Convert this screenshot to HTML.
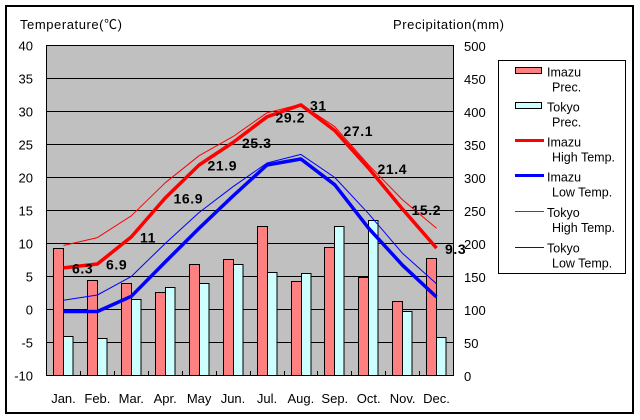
<!DOCTYPE html>
<html><head><meta charset="utf-8"><style>
html,body{margin:0;padding:0;background:#fff;}
svg{display:block;}
text{font-family:"Liberation Sans","Noto Sans CJK JP",sans-serif;fill:#000;}
.t{font-size:13px;}
.lg{font-size:12.5px;}
.lb{font-size:14px;font-weight:bold;letter-spacing:0.6px;}
</style></head><body>
<svg width="640" height="420" viewBox="0 0 640 420" xmlns="http://www.w3.org/2000/svg">
<rect x="0" y="0" width="640" height="420" fill="#fff"/>
<rect x="6" y="6" width="627" height="407" fill="none" stroke="#000" stroke-width="2"/>
<!-- plot bg -->
<rect x="46.5" y="45.5" width="407" height="330" fill="#C0C0C0"/>
<!-- gridlines -->
<g stroke="#000" stroke-width="1">
<line x1="46.5" y1="78.5" x2="453.5" y2="78.5"/>
<line x1="46.5" y1="111.5" x2="453.5" y2="111.5"/>
<line x1="46.5" y1="144.5" x2="453.5" y2="144.5"/>
<line x1="46.5" y1="177.5" x2="453.5" y2="177.5"/>
<line x1="46.5" y1="210.5" x2="453.5" y2="210.5"/>
<line x1="46.5" y1="243.5" x2="453.5" y2="243.5"/>
<line x1="46.5" y1="276.5" x2="453.5" y2="276.5"/>
<line x1="46.5" y1="309.5" x2="453.5" y2="309.5"/>
<line x1="46.5" y1="342.5" x2="453.5" y2="342.5"/>
</g>
<!-- bars -->
<g stroke="#000" stroke-width="1">
<g fill="#FF8080">
<rect x="53.5" y="248.5" width="10" height="127"/>
<rect x="87.5" y="280.5" width="10" height="95"/>
<rect x="121.5" y="283.5" width="10" height="92"/>
<rect x="155.5" y="292.5" width="10" height="83"/>
<rect x="189.5" y="264.5" width="10" height="111"/>
<rect x="223.5" y="259.5" width="10" height="116"/>
<rect x="257.5" y="226.5" width="10" height="149"/>
<rect x="291.5" y="281.5" width="10" height="94"/>
<rect x="324.5" y="247.5" width="10" height="128"/>
<rect x="358.5" y="277.5" width="10" height="98"/>
<rect x="392.5" y="301.5" width="10" height="74"/>
<rect x="426.5" y="258.5" width="10" height="117"/>
</g>
<g fill="#CCFFFF">
<rect x="63.5" y="336.5" width="9.5" height="39"/>
<rect x="97.5" y="338.5" width="9.5" height="37"/>
<rect x="131.5" y="299.5" width="9.5" height="76"/>
<rect x="165.5" y="287.5" width="9.5" height="88"/>
<rect x="199.5" y="283.5" width="9.5" height="92"/>
<rect x="233.5" y="264.5" width="9.5" height="111"/>
<rect x="267.5" y="272.5" width="9.5" height="103"/>
<rect x="301.5" y="273.5" width="9.5" height="102"/>
<rect x="334.5" y="226.5" width="9.5" height="149"/>
<rect x="368.5" y="220.5" width="9.5" height="155"/>
<rect x="402.5" y="311.5" width="9.5" height="64"/>
<rect x="436.5" y="337.5" width="9.5" height="38"/>
</g>
</g>
<!-- x ticks -->
<g stroke="#000" stroke-width="1">
<line x1="80.5" y1="371" x2="80.5" y2="375.5"/>
<line x1="114.5" y1="371" x2="114.5" y2="375.5"/>
<line x1="148.5" y1="371" x2="148.5" y2="375.5"/>
<line x1="182.5" y1="371" x2="182.5" y2="375.5"/>
<line x1="216.5" y1="371" x2="216.5" y2="375.5"/>
<line x1="250.5" y1="371" x2="250.5" y2="375.5"/>
<line x1="284.5" y1="371" x2="284.5" y2="375.5"/>
<line x1="317.5" y1="371" x2="317.5" y2="375.5"/>
<line x1="351.5" y1="371" x2="351.5" y2="375.5"/>
<line x1="385.5" y1="371" x2="385.5" y2="375.5"/>
<line x1="419.5" y1="371" x2="419.5" y2="375.5"/>
</g>
<!-- lines -->
<g fill="none" stroke-linejoin="round">
<polyline stroke="#FF0000" stroke-width="1" points="63.5,245.5 97.4,237.6 131.3,215.8 165.2,182.8 199.1,155.7 233,136.6 267,112.8 300.9,104.2 334.8,126.7 368.7,165 402.6,199.9 436.5,228.3"/>
<polyline stroke="#0000FF" stroke-width="1" points="63.5,300.3 97.4,295 131.3,276.5 165.2,243.5 199.1,212.5 233,186.7 267,163 300.9,154.4 334.8,177.5 368.7,213.8 402.6,253.4 436.5,283.8"/>
<polyline stroke="#FF0000" stroke-width="3.5" points="63.5,267.9 97.4,264 131.3,236.9 165.2,198 199.1,165 233,142.5 267,116.8 300.9,104.9 334.8,130.6 368.7,168.3 402.6,209.2 436.5,248.1"/>
<polyline stroke="#0000FF" stroke-width="3.5" points="63.5,311.5 97.4,311.5 131.3,296.3 165.2,262 199.1,228.3 233,196 267,165 300.9,159 334.8,184.8 368.7,228.3 402.6,265.3 436.5,297"/>
</g>
<!-- data labels -->
<g class="lb">
<text x="72" y="273.5">6.3</text>
<text x="106" y="269.5">6.9</text>
<text x="140" y="242.5">11</text>
<text x="173.5" y="203.5">16.9</text>
<text x="207.5" y="170.5">21.9</text>
<text x="242" y="148">25.3</text>
<text x="275.5" y="122.5">29.2</text>
<text x="310" y="110.5">31</text>
<text x="343.5" y="136">27.1</text>
<text x="377.5" y="174">21.4</text>
<text x="411.5" y="215">15.2</text>
<text x="445" y="254">9.3</text>
</g>
<!-- plot border -->
<rect x="46.5" y="45.5" width="407" height="330" fill="none" stroke="#000" stroke-width="1"/>
<!-- left axis labels -->
<g class="t" text-anchor="end">
<text x="33" y="50.5">40</text>
<text x="33" y="83.5">35</text>
<text x="33" y="116.5">30</text>
<text x="33" y="149.5">25</text>
<text x="33" y="182.5">20</text>
<text x="33" y="215.5">15</text>
<text x="33" y="248.5">10</text>
<text x="33" y="281.5">5</text>
<text x="33" y="314.5">0</text>
<text x="33" y="347.5">-5</text>
<text x="33" y="380.5">-10</text>
</g>
<!-- right axis labels -->
<g class="t">
<text x="464" y="51">500</text>
<text x="464" y="84">450</text>
<text x="464" y="117">400</text>
<text x="464" y="150">350</text>
<text x="464" y="183">300</text>
<text x="464" y="216">250</text>
<text x="464" y="249">200</text>
<text x="464" y="282">150</text>
<text x="464" y="315">100</text>
<text x="464" y="348">50</text>
<text x="464" y="381">0</text>
</g>
<!-- month labels -->
<g class="t" text-anchor="middle">
<text x="63.5" y="403">Jan.</text>
<text x="97.4" y="403">Feb.</text>
<text x="131.3" y="403">Mar.</text>
<text x="165.2" y="403">Apr.</text>
<text x="199.1" y="403">May</text>
<text x="233" y="403">Jun.</text>
<text x="267" y="403">Jul.</text>
<text x="300.9" y="403">Aug.</text>
<text x="334.8" y="403">Sep.</text>
<text x="368.7" y="403">Oct.</text>
<text x="402.6" y="403">Nov.</text>
<text x="436.5" y="403">Dec.</text>
</g>
<!-- axis titles -->
<text class="t" x="20" y="29" textLength="102" lengthAdjust="spacing">Temperature(℃)</text>
<text class="t" x="393" y="29" textLength="111" lengthAdjust="spacing">Precipitation(mm)</text>
<!-- legend -->
<rect x="498.5" y="60.5" width="127" height="213" fill="#fff" stroke="#000" stroke-width="1"/>
<rect x="515.5" y="67.5" width="26" height="6" fill="#FF8080" stroke="#000" stroke-width="1"/>
<rect x="515.5" y="102.5" width="26" height="6" fill="#CCFFFF" stroke="#000" stroke-width="1"/>
<line x1="515" y1="140.5" x2="544" y2="140.5" stroke="#FF0000" stroke-width="3"/>
<line x1="515" y1="175.5" x2="544" y2="175.5" stroke="#0000FF" stroke-width="3"/>
<line x1="515" y1="211.5" x2="544" y2="211.5" stroke="#FF0000" stroke-width="1"/>
<line x1="515" y1="247.5" x2="544" y2="247.5" stroke="#0000FF" stroke-width="1"/>
<g class="lg">
<text x="547" y="76.5">Imazu</text>
<text x="552" y="91.5">Prec.</text>
<text x="547" y="111.5">Tokyo</text>
<text x="552" y="126.5">Prec.</text>
<text x="547" y="146.5">Imazu</text>
<text x="552" y="161.5">High Temp.</text>
<text x="547" y="181.5">Imazu</text>
<text x="552" y="196.5">Low Temp.</text>
<text x="547" y="217">Tokyo</text>
<text x="552" y="232">High Temp.</text>
<text x="547" y="252.5">Tokyo</text>
<text x="552" y="267.5">Low Temp.</text>
</g>
</svg>
</body></html>
